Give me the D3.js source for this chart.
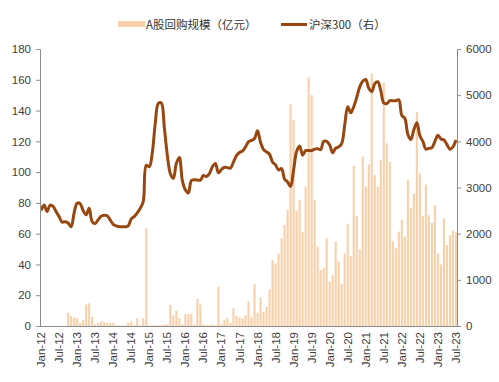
<!DOCTYPE html>
<html><head><meta charset="utf-8">
<script src="https://cdn.jsdelivr.net/npm/d3@7"></script>
<style>
html,body{margin:0;padding:0;background:#fff;}
svg{display:block;}
text{font-family:"Liberation Sans",Arial,sans-serif;}
</style></head>
<body>
<svg id="chart" width="499" height="382"></svg>
<script>
// ---- data ----
const seriesNames = ["A股回购规模（亿元）", "沪深300（右）"];
// monthly categories Jan-12 .. Jul-23
const monNames = ["Jan","Feb","Mar","Apr","May","Jun","Jul","Aug","Sep","Oct","Nov","Dec"];
const months = [];
for (let y = 12; y <= 23; y++) for (let m = 0; m < 12; m++) { if (y === 23 && m > 6) break; months.push(monNames[m] + "-" + y); }
const tickLabels = ["Jan-12","Jul-12","Jan-13","Jul-13","Jan-14","Jul-14","Jan-15","Jul-15","Jan-16","Jul-16","Jan-17","Jul-17","Jan-18","Jul-18","Jan-19","Jul-19","Jan-20","Jul-20","Jan-21","Jul-21","Jan-22","Jul-22","Jan-23","Jul-23"];
const leftTicks = [0,20,40,60,80,100,120,140,160,180];
const rightTicks = [0,1000,2000,3000,4000,5000,6000];
// A股回购规模 (亿元), left axis
const buyback = [
 0,0,0,0,0,0,0,0,0,8.6,6.5,5.5,
 5,2,4,14,14.7,6,1,2,3,2.5,2,2,
 2,0.3,0.3,0.3,0.5,2,3,0.5,5,0.5,5,63.5,
 0.3,0.3,0.5,0.5,0.5,1,1,13.6,7,10,5,1,
 7.8,7.8,8,1,17.5,14,1,0.5,0.5,1,0.5,25.5,
 1,4,5,2,11.5,6.5,5.4,5,7,15.8,5.6,27.3,
 8.7,18.6,9.3,12.5,23.8,43,40.7,47,57,65.6,75.4,144,
 134,75,82,61,90.5,161.6,150,82,51.5,36.4,38,57,
 28.8,33,54.8,41.8,27.3,47.2,66.5,45.5,104,71.5,49.8,110,
 90.5,105,164,98,90.5,108,158,118.7,106.8,55,50.5,61.3,
 69,58,95,76.5,86,139,99,71.5,92,72,67,78.6,
 47,40,70,52.6,59,62,61
];
// 沪深300, right axis
const csi300 = [
 2500,2620,2480,2620,2590,2480,2370,2250,2260,2230,2150,2450,
 2660,2650,2500,2410,2550,2260,2220,2300,2380,2400,2390,2300,
 2200,2170,2150,2150,2150,2170,2320,2370,2450,2550,2700,3480,
 3450,3750,4400,4820,4830,4300,3700,3300,3200,3520,3650,3150,
 2950,2880,3150,3170,3160,3160,3260,3240,3300,3450,3520,3320,
 3390,3440,3430,3420,3550,3690,3760,3790,3880,3990,4020,4060,
 4230,3980,3820,3770,3720,3550,3490,3380,3410,3180,3120,3020,
 3380,3780,3900,3700,3800,3800,3800,3830,3840,3820,4000,4000,
 3920,3750,3850,3880,3950,4350,4750,4620,4750,4950,5180,5300,
 5340,5150,5080,5250,5290,5100,4830,4820,4880,4880,4880,4900,
 4560,4500,4150,4040,4250,4400,4120,4000,3830,3850,3860,4000,
 4130,4050,4030,3930,3830,3880,4030
];

// ---- layout ----
const svg = d3.select("#chart");
const L = 40, R = 457, T = 49, B = 326;
const barColor = "#f8d0aa", lineColor = "#97470f", axisColor = "#8c8c8c", textColor = "#404040";

const x = d3.scaleBand().domain(months).range([L, R]).paddingInner(0.3).paddingOuter(0);
const yL = d3.scaleLinear().domain([0, 180]).range([B, T]);
const yR = d3.scaleLinear().domain([0, 6000]).range([B, T]);

// bars
svg.append("g").selectAll("rect").data(buyback).join("rect")
  .attr("x", (d, i) => x(months[i]))
  .attr("width", x.bandwidth())
  .attr("y", d => yL(d))
  .attr("height", d => B - yL(d))
  .attr("fill", barColor);

// line
const line = d3.line()
  .x((d, i) => x(months[i]) + x.bandwidth() / 2)
  .y(d => yR(d))
  .curve(d3.curveCatmullRom.alpha(0.5));
svg.append("path").datum(csi300)
  .attr("d", line).attr("fill", "none")
  .attr("stroke", lineColor).attr("stroke-width", 3)
  .attr("stroke-linejoin", "round");

// axes
function styleAxis(g) {
  g.selectAll("path.domain").attr("stroke", axisColor);
  g.selectAll(".tick line").attr("stroke", axisColor);
  g.selectAll(".tick text").attr("fill", textColor)
    .style("font-size", "11.5px").style("font-family", "'Liberation Sans', Arial, sans-serif");
}
const gL = svg.append("g").attr("transform", `translate(${L},0)`)
  .call(d3.axisLeft(yL).tickValues(leftTicks).tickFormat(d3.format("d")).tickSize(4).tickSizeOuter(4).tickPadding(5));
styleAxis(gL);
const gR = svg.append("g").attr("transform", `translate(${R},0)`)
  .call(d3.axisRight(yR).tickValues(rightTicks).tickFormat(d3.format("d")).tickSize(4).tickSizeOuter(4).tickPadding(5));
styleAxis(gR);

const gX = svg.append("g").attr("transform", `translate(0,${B})`)
  .call(d3.axisBottom(x).tickValues(tickLabels).tickSize(0).tickSizeOuter(0));
gX.selectAll("path.domain").attr("stroke", axisColor).attr("d", `M${L},0.5H${R}`);
gX.selectAll(".tick text")
  .attr("fill", textColor)
  .style("font-size", "11.5px")
  .attr("transform", "rotate(-90)")
  .attr("text-anchor", "end")
  .attr("x", -6).attr("y", 0).attr("dy", "0.35em");

// legend
const leg = svg.append("g").style("font-size", "11.5px");
leg.append("rect").attr("x", 118).attr("y", 21).attr("width", 27).attr("height", 6).attr("fill", barColor);
leg.append("text").attr("x", 146).attr("y", 28.5).attr("fill", "#333").text(seriesNames[0])
  .style("font-family", "'Noto Sans CJK SC', sans-serif");
leg.append("line").attr("x1", 281).attr("x2", 307).attr("y1", 24.5).attr("y2", 24.5)
  .attr("stroke", lineColor).attr("stroke-width", 3);
leg.append("text").attr("x", 309).attr("y", 28.5).attr("fill", "#333").text(seriesNames[1])
  .style("font-family", "'Noto Sans CJK SC', sans-serif");
</script>
</body></html>
